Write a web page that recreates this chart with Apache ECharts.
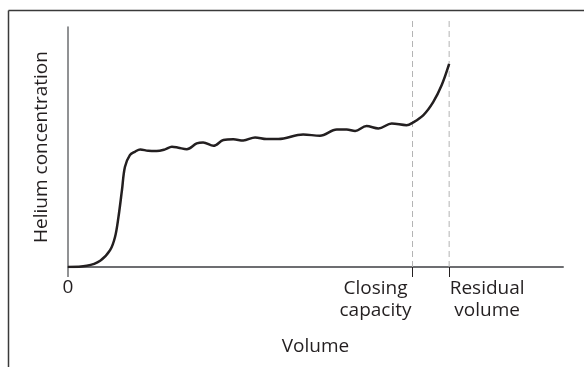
<!DOCTYPE html>
<html>
<head>
<meta charset="utf-8">
<script src="https://cdn.jsdelivr.net/npm/echarts@6/dist/echarts.min.js"></script>
<style>
html,body{margin:0;padding:0;background:#fff;}
#chart{width:584px;height:367px;}
</style>
</head>
<body>
<div id="chart"></div>
<script>
// Volume (arbitrary units, 0 = start of expiration)
var volume = [0, 3.8, 6.5, 8.5, 9.5, 10.2, 10.9, 11.5, 12.5, 13.5, 14.6, 16.2, 17.9, 19.6, 21.0, 22.3, 24.0, 26.0, 27.3, 29.4, 31.4, 33.4, 35.4, 37.8, 40.1, 42.5, 47.5, 50.9, 54.3, 56.3, 58.0, 60.3, 62.7, 65.4, 68.4, 69.6, 71.8, 73.8, 75.5, 77.0];
// Helium concentration (arbitrary units)
var helium = [0, 0.5, 2.6, 7.0, 12.5, 20.9, 32.0, 41.7, 46.6, 48.0, 49.0, 48.4, 48.3, 49.0, 50.1, 49.7, 49.1, 51.5, 51.9, 50.5, 52.9, 53.2, 52.7, 54.0, 53.3, 53.3, 55.2, 54.7, 57.3, 57.3, 56.7, 58.7, 57.7, 59.8, 59.1, 60.1, 63.3, 68.8, 75.8, 84.6];
// Marked volumes
var markNames = ['Closing\ncapacity', 'Residual\nvolume'];
var markValues = [69.6, 77.0];
var originLabel = '0';
var xName = 'Volume';
var yName = 'Helium concentration';

var FONT = '"Open Sans", sans-serif';
var TXT = '#231f20';
var AX = '#6d6e71';

var curve = volume.map(function (v, i) { return [v, helium[i]]; });

function richLabel(text) {
  return text.split('\n').map(function (s) { return '{a|' + s + '}'; }).join('\n');
}

var chart = echarts.init(document.getElementById('chart'), null, {renderer: 'canvas'});
var xMin = 0, xMax = 100;
var option = {
  animation: false,
  backgroundColor: '#fff',
  textStyle: {fontFamily: FONT},
  graphic: [
    {type: 'line', shape: {x1: 8.5, y1: 10.5, x2: 584, y2: 10.5}, style: {stroke: '#3a3a3a', lineWidth: 1.5}},
    {type: 'line', shape: {x1: 8.5, y1: 10.5, x2: 8.5, y2: 367}, style: {stroke: '#3a3a3a', lineWidth: 1.5}}
  ],
  grid: [
    {left: 68, right: 21, top: 27, bottom: 100},
    {left: 68, right: 21, top: 17, bottom: 100}
  ],
  xAxis: [
    {
      gridIndex: 0, type: 'value', min: xMin, max: xMax, position: 'bottom',
      axisLine: {show: true, lineStyle: {color: AX, width: 2}},
      axisTick: {show: true, customValues: markValues, length: 10, lineStyle: {color: TXT, width: 1}},
      axisLabel: {show: false},
      splitLine: {show: false},
      name: xName, nameLocation: 'middle', nameGap: 70,
      nameTextStyle: {color: TXT, fontSize: 19, fontFamily: FONT}
    },
    {
      gridIndex: 0, type: 'value', min: xMin, max: xMax, position: 'bottom', offset: 0,
      axisLine: {show: false},
      axisTick: {show: true, customValues: [xMin], length: 10, lineStyle: {color: AX, width: 1.5}},
      axisLabel: {show: true, customValues: [xMin], margin: 11, color: TXT, fontSize: 19, fontFamily: FONT,
        formatter: function () { return originLabel; }},
      splitLine: {show: false}
    },
    {
      gridIndex: 0, type: 'value', min: xMin, max: xMax, position: 'bottom', offset: 0,
      axisLine: {show: false}, axisTick: {show: false}, splitLine: {show: false},
      axisLabel: {show: true, customValues: [markValues[0]], margin: 11, align: 'right',
        formatter: function () { return richLabel(markNames[0]); },
        rich: {a: {color: TXT, fontSize: 19, fontFamily: FONT, width: 74, align: 'center', lineHeight: 22}}}
    },
    {
      gridIndex: 0, type: 'value', min: xMin, max: xMax, position: 'bottom', offset: 0,
      axisLine: {show: false}, axisTick: {show: false}, splitLine: {show: false},
      axisLabel: {show: true, customValues: [markValues[1]], margin: 11, align: 'left',
        formatter: function () { return richLabel(markNames[1]); },
        rich: {a: {color: TXT, fontSize: 19, fontFamily: FONT, width: 76, align: 'center', lineHeight: 22}}}
    },
    {
      gridIndex: 1, type: 'value', min: xMin, max: xMax, show: false
    }
  ],
  yAxis: [
    {
      gridIndex: 0, type: 'value', min: 0, max: 100,
      axisLine: {show: true, lineStyle: {color: AX, width: 1.5}},
      axisTick: {show: false}, axisLabel: {show: false}, splitLine: {show: false},
      name: yName, nameLocation: 'middle', nameGap: 17,
      nameTextStyle: {color: TXT, fontSize: 19, fontFamily: FONT}
    },
    {gridIndex: 1, type: 'value', min: 0, max: 1, show: false}
  ],
  series: markValues.map(function (v) {
    return {
      type: 'line', xAxisIndex: 4, yAxisIndex: 1, data: [[v, 0], [v, 1]],
      symbol: 'none', silent: true, z: 1,
      lineStyle: {color: '#b3b3b3', width: 1, type: [6, 4]}
    };
  }).concat([{
    type: 'line', xAxisIndex: 0, yAxisIndex: 0, data: curve,
    symbol: 'none', smooth: 0.35, z: 5, silent: true,
    lineStyle: {color: TXT, width: 2.5}
  }])
};
chart.setOption(option);
</script>
</body>
</html>
